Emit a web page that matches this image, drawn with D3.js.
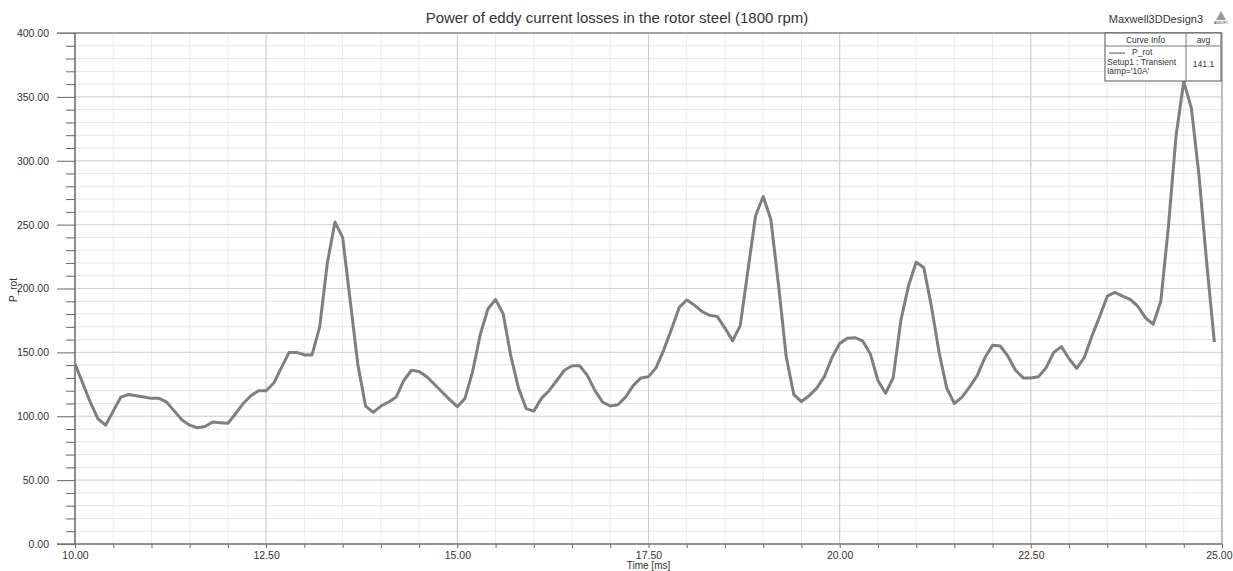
<!DOCTYPE html>
<html lang="en">
<head>
<meta charset="UTF-8">
<title>Power of eddy current losses in the rotor steel (1800 rpm)</title>
<script src="https://d3js.org/d3.v7.min.js"></script>
<style>
  body { margin: 0; background: #fff; }
  svg text { font-family: "Liberation Sans", Arial, sans-serif; fill: #333; }
</style>
</head>
<body>
<script>
// chart texts
const chartTitle = "Power of eddy current losses in the rotor steel (1800 rpm)";
const designName = "Maxwell3DDesign3";
const xLabel = "Time [ms]";
const yLabel = "P_rot";

// sampled every 0.1 ms starting at 10 ms
const tStart = 10.0;
const tStep = 0.1;
const pRot = [
  141, 126, 111, 98, 93, 104, 115, 117, 116, 115,
  114, 114, 111, 104, 97, 93, 91, 92, 95.5, 95,
  94.5, 102, 110, 116, 120, 120, 126, 138, 150, 150,
  148, 148, 170, 220, 252, 240, 190, 140, 108, 103,
  108, 111, 115, 128, 136, 135, 131, 125, 119, 113,
  107.5, 114, 135, 164, 184, 191.5, 180, 147, 122, 106,
  104, 114, 120, 128, 136, 139.5, 139.5, 132, 120, 111,
  108, 109, 115, 124, 130, 131, 138, 152, 168, 185,
  191, 187, 182, 179, 178, 169, 159, 171, 214, 257,
  272, 254, 203, 147, 117, 111.5, 116, 122, 131, 146,
  157, 161, 161.5, 159, 149, 128, 118, 130, 175, 202,
  220.5, 216.5, 186, 150, 122, 110, 115, 123, 132, 146,
  155.5, 155, 147, 136, 130, 130, 131, 138, 150, 154.5,
  145, 137.5, 146, 163, 178, 194, 197, 194, 191.5, 186,
  177, 172, 190, 249, 320, 362, 341, 288, 220, 158
];

const xTicks = [10, 12.5, 15, 17.5, 20, 22.5, 25];
const yTicks = [0, 50, 100, 150, 200, 250, 300, 350, 400];

// legend table
const legendHead = ["Curve Info", "avg"];
const legendLines = ["P_rot", "Setup1 : Transient", "Iamp='10A'"];
const legendAvg = "141.1";

const width = 1233, height = 571;
const margin = {top: 33, right: 11, bottom: 27, left: 75};
const iw = width - margin.left - margin.right;
const ih = height - margin.top - margin.bottom;

const data = pRot.map((v, i) => ({t: tStart + i * tStep, v: v}));

const svg = d3.select("body").append("svg")
  .attr("width", width)
  .attr("height", height);

const g = svg.append("g")
  .attr("transform", "translate(" + margin.left + "," + margin.top + ")");

const x = d3.scaleLinear().domain([10, 25]).range([0, iw]);
const y = d3.scaleLinear().domain([0, 400]).range([ih, 0]);

const minorX = d3.range(10, 25.01, 0.5);
const minorY = d3.range(0, 401, 10);

// grid lines
g.append("g").selectAll("line").data(minorX).join("line")
  .attr("x1", d => x(d)).attr("x2", d => x(d))
  .attr("y1", 0).attr("y2", ih)
  .attr("stroke", "#ebebeb");
g.append("g").selectAll("line").data(minorY).join("line")
  .attr("x1", 0).attr("x2", iw)
  .attr("y1", d => y(d)).attr("y2", d => y(d))
  .attr("stroke", "#e6e6e6");
g.append("g").selectAll("line").data(xTicks).join("line")
  .attr("x1", d => x(d)).attr("x2", d => x(d))
  .attr("y1", 0).attr("y2", ih)
  .attr("stroke", "#cdcdcd");
g.append("g").selectAll("line").data(yTicks).join("line")
  .attr("x1", 0).attr("x2", iw)
  .attr("y1", d => y(d)).attr("y2", d => y(d))
  .attr("stroke", "#d4d4d4");

// y axis: major ticks with labels, minor ticks
const yAxis = g.append("g")
  .call(d3.axisLeft(y).tickValues(yTicks).tickSize(18).tickPadding(8).tickFormat(d3.format(".2f")));
yAxis.select(".domain").remove();
yAxis.selectAll("line").attr("stroke", "#666");
yAxis.selectAll("text").attr("font-size", 10.5).attr("fill", "#444")
  .style("font-family", "'Liberation Sans', Arial, sans-serif");

const yMinor = g.append("g")
  .call(d3.axisLeft(y).tickValues(minorY.filter(d => d % 50 !== 0)).tickSize(9).tickFormat(""));
yMinor.select(".domain").remove();
yMinor.selectAll("line").attr("stroke", "#666");

// x axis
const xAxis = g.append("g")
  .attr("transform", "translate(0," + ih + ")")
  .call(d3.axisBottom(x).tickValues(minorX).tickSize(4).tickPadding(4)
    .tickFormat(d => xTicks.includes(d) ? d3.format(".2f")(d) : ""));
xAxis.select(".domain").remove();
xAxis.selectAll("line").attr("stroke", "#666");
xAxis.selectAll("text").attr("font-size", 10.5).attr("fill", "#444")
  .style("font-family", "'Liberation Sans', Arial, sans-serif");
// keep the last label inside the page
xAxis.selectAll(".tick").filter(d => d === 25).select("text")
  .attr("text-anchor", "end").attr("dx", 10);

// frame
g.append("line").attr("x1", -18).attr("x2", iw).attr("y1", 0).attr("y2", 0)
  .attr("stroke", "#8c8c8c").attr("stroke-width", 1.5);
g.append("line").attr("x1", -18).attr("x2", iw).attr("y1", ih).attr("y2", ih)
  .attr("stroke", "#777").attr("stroke-width", 1.5);
g.append("line").attr("x1", 0).attr("x2", 0).attr("y1", 0).attr("y2", ih)
  .attr("stroke", "#555").attr("stroke-width", 1.2);
g.append("line").attr("x1", iw).attr("x2", iw).attr("y1", 0).attr("y2", ih)
  .attr("stroke", "#999").attr("stroke-width", 1);

// curve
const line = d3.line().x(d => x(d.t)).y(d => y(d.v));
g.append("path")
  .datum(data)
  .attr("fill", "none")
  .attr("stroke", "#7f7f7f")
  .attr("stroke-width", 3)
  .attr("stroke-linejoin", "round")
  .attr("d", line);

// titles
svg.append("text")
  .attr("x", 617).attr("y", 23)
  .attr("text-anchor", "middle")
  .attr("font-size", 15).attr("fill", "#333")
  .text(chartTitle);

svg.append("text")
  .attr("x", 1203).attr("y", 23)
  .attr("text-anchor", "end")
  .attr("font-size", 11).attr("fill", "#333")
  .text(designName);

// small logo
svg.append("path")
  .attr("d", "M1221,11 L1226,20 L1216,20 Z")
  .attr("fill", "#999");
svg.append("text")
  .attr("x", 1221).attr("y", 24)
  .attr("text-anchor", "middle")
  .attr("font-size", 3.5).attr("fill", "#666")
  .text("ANSOFT");

svg.append("text")
  .attr("x", margin.left + x(17.5)).attr("y", 569)
  .attr("text-anchor", "middle")
  .attr("font-size", 10).attr("fill", "#444")
  .text(xLabel);

svg.append("text")
  .attr("transform", "translate(17,290) rotate(-90)")
  .attr("text-anchor", "middle")
  .attr("font-size", 10).attr("fill", "#444")
  .text(yLabel);

// legend box
const lg = svg.append("g").attr("transform", "translate(1105,33)");
const lw = 116, lh = 48, colX = 81, headH = 13;
lg.append("rect").attr("width", lw).attr("height", lh)
  .attr("fill", "#fff").attr("stroke", "#555").attr("stroke-width", 1);
lg.append("line").attr("x1", 0).attr("x2", lw).attr("y1", headH).attr("y2", headH)
  .attr("stroke", "#777");
lg.append("line").attr("x1", colX).attr("x2", colX).attr("y1", 0).attr("y2", lh)
  .attr("stroke", "#777");
lg.append("text").attr("x", colX / 2).attr("y", 10).attr("text-anchor", "middle")
  .attr("font-size", 8.5).text(legendHead[0]);
lg.append("text").attr("x", (colX + lw) / 2).attr("y", 10).attr("text-anchor", "middle")
  .attr("font-size", 8.5).text(legendHead[1]);
lg.append("line").attr("x1", 4).attr("x2", 20).attr("y1", 20).attr("y2", 20)
  .attr("stroke", "#555").attr("stroke-width", 1);
lg.selectAll("text.row").data(legendLines).join("text")
  .attr("class", "row")
  .attr("x", (d, i) => i === 0 ? 27 : 2)
  .attr("y", (d, i) => 22 + i * 9.5)
  .attr("font-size", 8.5)
  .text(d => d);
lg.append("text").attr("x", (colX + lw) / 2).attr("y", 34).attr("text-anchor", "middle")
  .attr("font-size", 8.5).text(legendAvg);
</script>
</body>
</html>
